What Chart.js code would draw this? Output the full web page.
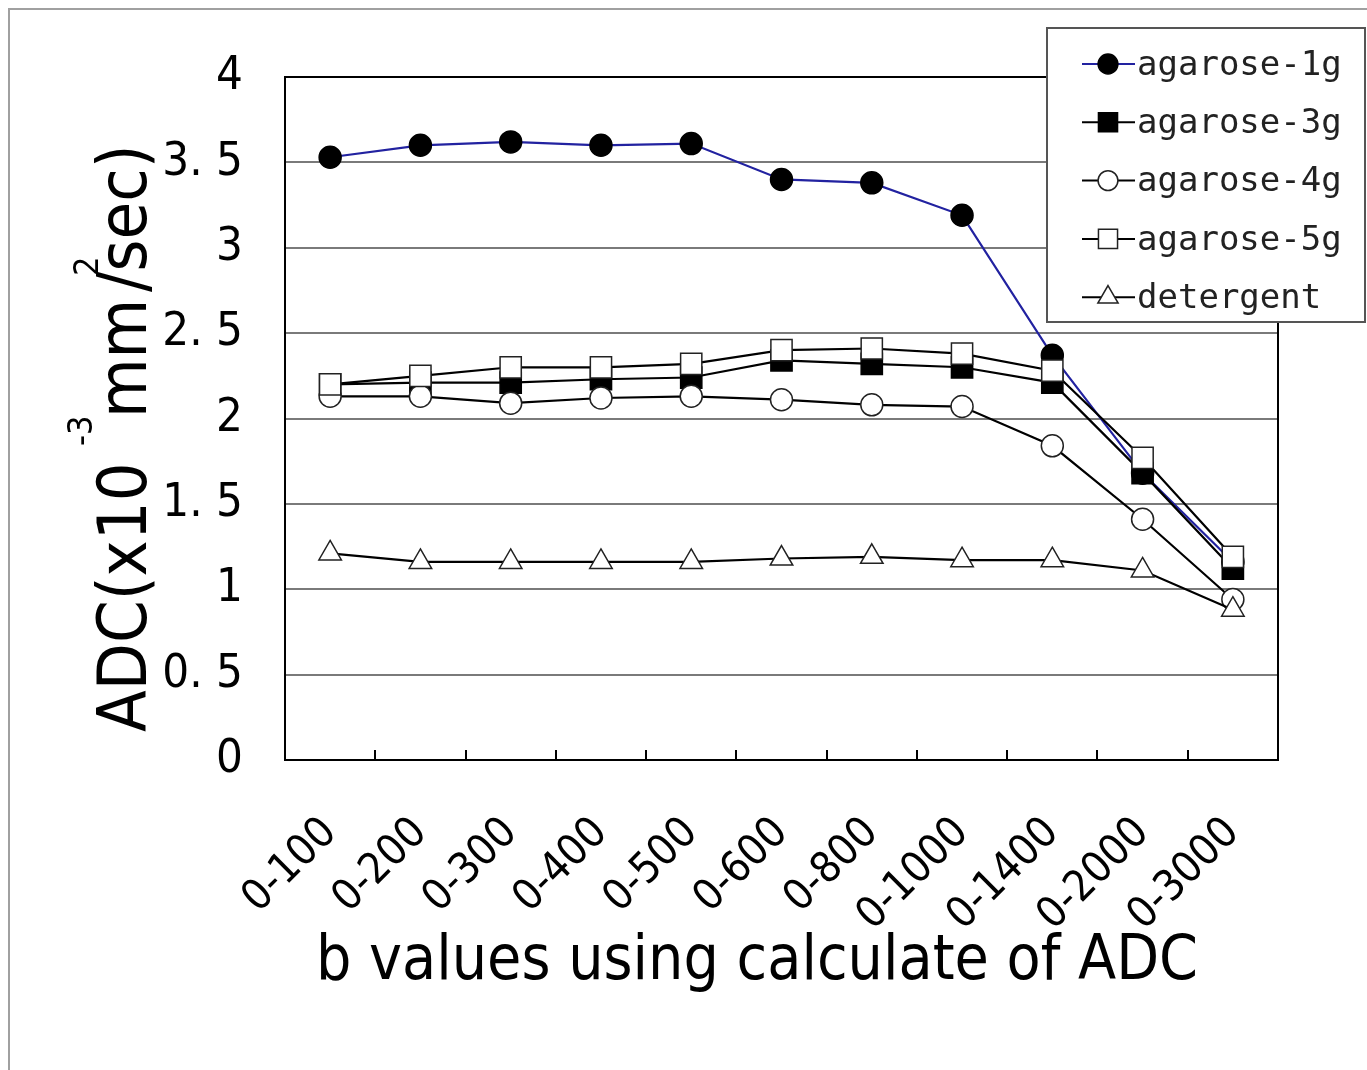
<!DOCTYPE html>
<html>
<head>
<meta charset="utf-8">
<script src="https://cdn.jsdelivr.net/npm/chart.js@4.4.1/dist/chart.umd.min.js"></script>
<style>
  html, body { margin: 0; padding: 0; background: #fff; }
  canvas { display: block; }
</style>
</head>
<body>
<canvas id="adcChart" width="1367" height="1070"></canvas>
<script>
// b value ranges used for the ADC calculation
const bRanges = ["0-100", "0-200", "0-300", "0-400", "0-500", "0-600", "0-800", "0-1000", "0-1400", "0-2000", "0-3000"];

// ADC values (x10^-3 mm^2/sec)
const agarose1g = [3.53, 3.60, 3.62, 3.60, 3.61, 3.40, 3.38, 3.19, 2.37, 1.68, 1.16];
const agarose3g = [2.20, 2.21, 2.21, 2.23, 2.24, 2.34, 2.32, 2.30, 2.21, 1.68, 1.12];
const agarose4g = [2.13, 2.13, 2.09, 2.12, 2.13, 2.11, 2.08, 2.07, 1.84, 1.41, 0.94];
const agarose5g = [2.20, 2.25, 2.30, 2.30, 2.32, 2.40, 2.41, 2.38, 2.28, 1.77, 1.19];
const detergent = [1.21, 1.16, 1.16, 1.16, 1.16, 1.18, 1.19, 1.17, 1.17, 1.11, 0.88];

const yMin = 0;
const yMax = 4;
const yStep = 0.5;

const NARROW = '"Liberation Sans Narrow", "DejaVu Sans Condensed", sans-serif';

function series(label, values, opts) {
  return Object.assign({
    label: label,
    data: values,
    borderColor: "#000",
    borderWidth: 2.2,
    pointBorderColor: "#222",
    pointBorderWidth: 1.5,
    pointBackgroundColor: "#fff",
    fill: false,
    tension: 0,
  }, opts);
}

const datasets = [
  series("agarose-1g", agarose1g, { borderColor: "#2222a0", pointStyle: "circle", pointRadius: 11, pointBackgroundColor: "#000", pointBorderColor: "#000", order: 5 }),
  series("agarose-3g", agarose3g, { pointStyle: "rect", pointRadius: 15, pointBackgroundColor: "#000", pointBorderColor: "#000", order: 4 }),
  series("agarose-4g", agarose4g, { pointStyle: "circle", pointRadius: 11, order: 3 }),
  series("agarose-5g", agarose5g, { pointStyle: "rect", pointRadius: 15, order: 2 }),
  series("detergent", detergent, { pointStyle: "triangle", pointRadius: 13, order: 1 }),
];

function fmtTick(v) {
  // the source uses "3. 5" style labels
  const s = String(Math.round(v * 10) / 10);
  return s.replace(".", ". ");
}

const decorations = {
  id: "decorations",
  beforeDraw(chart) {
    const ctx = chart.ctx;
    ctx.save();
    ctx.fillStyle = "#fff";
    ctx.fillRect(0, 0, chart.width, chart.height);
    ctx.strokeStyle = "#a0a0a0";
    ctx.lineWidth = 2;
    ctx.beginPath();
    ctx.moveTo(9, chart.height);
    ctx.lineTo(9, 9);
    ctx.lineTo(chart.width, 9);
    ctx.stroke();
    ctx.restore();
  },
  afterDraw(chart) {
    const ctx = chart.ctx;
    const area = chart.chartArea;
    const xs = chart.scales.x;

    ctx.save();
    // plot frame
    ctx.strokeStyle = "#000";
    ctx.lineWidth = 2;
    ctx.strokeRect(area.left, area.top, area.right - area.left, area.bottom - area.top);

    // inward tick marks between categories
    ctx.beginPath();
    for (let i = 0; i < bRanges.length - 1; i++) {
      const x = Math.round((xs.getPixelForValue(i) + xs.getPixelForValue(i + 1)) / 2);
      ctx.moveTo(x, area.bottom);
      ctx.lineTo(x, area.bottom - 10);
    }
    ctx.stroke();

    // x axis title
    ctx.fillStyle = "#000";
    ctx.font = "62px " + NARROW;
    ctx.textAlign = "center";
    ctx.textBaseline = "alphabetic";
    ctx.fillText("b values using calculate of ADC", 757, 979);

    // y axis title with superscripts, rotated
    ctx.save();
    ctx.translate(146, 0);
    ctx.rotate(-Math.PI / 2);
    ctx.textAlign = "left";
    const big = "68px " + NARROW;
    const small = "34px " + NARROW;
    ctx.font = big;
    ctx.fillText("ADC(x10", -732, 0);
    ctx.font = small;
    ctx.fillText("-3", -446, -54);
    ctx.font = big;
    ctx.fillText("mm", -418, 0);
    ctx.font = small;
    ctx.fillText("2", -276, -48);
    ctx.font = big;
    ctx.fillText("/sec)", -292, 0);
    ctx.restore();

    // legend box
    const lx = 1047, ly = 28, lw = 318, lh = 294;
    ctx.fillStyle = "#fff";
    ctx.fillRect(lx, ly, lw, lh);
    ctx.strokeStyle = "#555";
    ctx.lineWidth = 2;
    ctx.strokeRect(lx, ly, lw, lh);

    ctx.font = '34px "DejaVu Sans Mono", "Liberation Mono", monospace';
    ctx.textAlign = "left";
    ctx.textBaseline = "middle";
    chart.data.datasets.forEach((ds, i) => {
      const cy = 64 + i * 58.3;
      ctx.strokeStyle = ds.borderColor;
      ctx.lineWidth = 2;
      ctx.beginPath();
      ctx.moveTo(1082, cy);
      ctx.lineTo(1135, cy);
      ctx.stroke();
      ctx.fillStyle = ds.pointBackgroundColor;
      ctx.strokeStyle = ds.pointBorderColor;
      ctx.lineWidth = ds.pointBorderWidth;
      Chart.helpers.drawPoint(ctx, {
        pointStyle: ds.pointStyle,
        radius: ds.pointRadius * 0.9,
        rotation: 0,
        borderWidth: ds.pointBorderWidth,
      }, 1108, cy);
      ctx.fillStyle = "#222";
      ctx.fillText(ds.label, 1137, cy + 2);
    });
    ctx.restore();
  },
};

new Chart(document.getElementById("adcChart"), {
  type: "line",
  data: {
    labels: bRanges,
    datasets: datasets,
  },
  options: {
    responsive: false,
    animation: false,
    layout: {
      padding: { top: 77, right: 89, left: 0, bottom: 0 },
    },
    plugins: {
      legend: { display: false },
      tooltip: { enabled: false },
    },
    scales: {
      x: {
        type: "category",
        offset: true,
        grid: { display: false },
        border: { display: true, color: "#000", width: 2 },
        ticks: {
          color: "#000",
          font: { family: NARROW, size: 43 },
          minRotation: 45,
          maxRotation: 45,
          padding: 40,
        },
        afterFit(scale) {
          scale.height = 310;
        },
      },
      y: {
        min: yMin,
        max: yMax,
        grid: { color: "#7a7a7a", lineWidth: 2, drawTicks: false },
        border: { display: true, color: "#000", width: 2 },
        ticks: {
          stepSize: yStep,
          color: "#000",
          font: { family: NARROW, size: 47 },
          padding: 42,
          callback: (v) => fmtTick(v),
        },
        afterFit(scale) {
          scale.width = 285;
        },
      },
    },
  },
  plugins: [decorations],
});
</script>
</body>
</html>
